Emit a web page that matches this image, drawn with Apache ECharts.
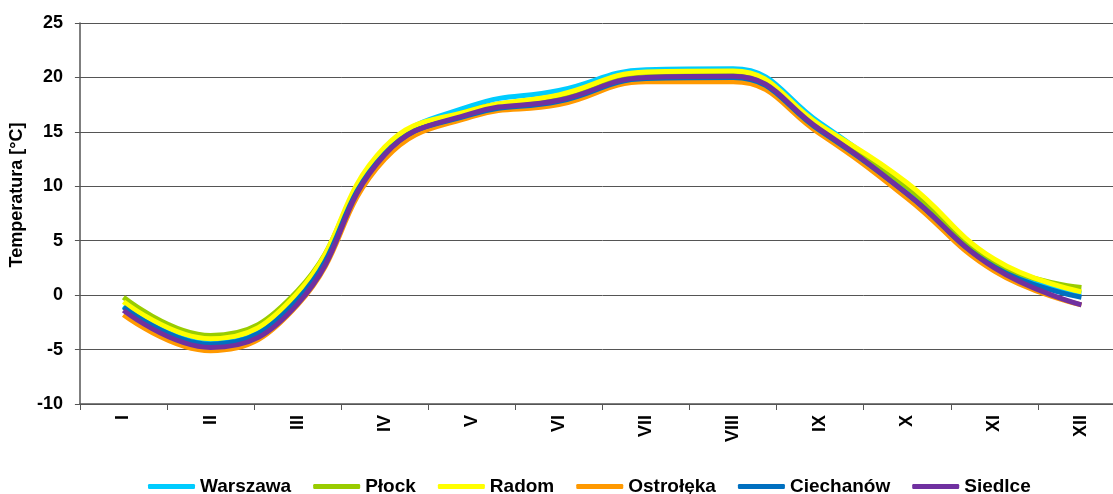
<!DOCTYPE html>
<html>
<head>
<meta charset="utf-8">
<title>Temperatura</title>
<script src="https://cdn.jsdelivr.net/npm/echarts@6/dist/echarts.min.js"></script>
<style>
  html, body { margin: 0; padding: 0; background: #fff; overflow: hidden; }
  /* wykres wychodzi poza prawą krawędź, jak w oryginale */
  #chart { width: 1125px; height: 494px; }
</style>
</head>
<body>
<div id="chart"></div>
<script>
// miesiące
var months = ['I', 'II', 'III', 'IV', 'V', 'VI', 'VII', 'VIII', 'IX', 'X', 'XI', 'XII'];

// średnie miesięczne temperatury [°C]
var warszawa  = [-1.0, -4.1,  0.0, 13.3, 17.4, 18.8, 20.7, 20.8, 15.8,  9.8, 2.8,  0.2];
var plock     = [-0.2, -3.7,  0.4, 13.3, 17.0, 18.2, 20.4, 20.5, 15.5,  9.9, 3.0,  0.7];
var radom     = [-0.6, -4.0,  0.2, 13.6, 17.0, 18.4, 20.5, 20.6, 15.6, 10.3, 3.3,  0.3];
var ostroleka = [-1.8, -5.1, -0.9, 12.5, 16.4, 17.5, 19.6, 19.6, 14.8,  8.9, 2.2, -0.9];
var ciechanow = [-1.1, -4.5, -0.4, 13.0, 16.6, 17.8, 19.9, 20.0, 15.1,  9.3, 2.6, -0.2];
var siedlce   = [-1.4, -4.8, -0.8, 12.9, 16.7, 17.9, 20.0, 20.1, 15.2,  9.3, 2.5, -0.9];

var yTicks = { min: -10, max: 25, step: 5 };

var names  = ['Warszawa', 'Płock', 'Radom', 'Ostrołęka', 'Ciechanów', 'Siedlce'];
var values = [warszawa, plock, radom, ostroleka, ciechanow, siedlce];
var colors = ['#00ccff', '#99cc00', '#ffff00', '#ff9900', '#0070c0', '#7030a0'];

var font = '"Liberation Sans", Arial, sans-serif';

var chart = echarts.init(document.getElementById('chart'));

var series = names.map(function (n, i) {
    return {
        name: n,
        type: 'line',
        data: values[i],
        smooth: 0.45,
        showSymbol: false,
        symbol: 'none',
        color: colors[i],
        lineStyle: { width: 5, color: colors[i] },
        animation: false
    };
});

chart.setOption({
    animation: false,
    grid: {
        left: 77,
        right: 0,
        top: 23,
        bottom: 90,
        containLabel: false
    },
    legend: {
        data: names,
        left: 143,
        top: 472,
        icon: 'roundRect',
        itemWidth: 47,
        itemHeight: 5,
        itemGap: 22,
        textStyle: {
            fontFamily: font,
            fontWeight: 'bold',
            fontSize: 19,
            color: '#000'
        }
    },
    xAxis: {
        type: 'category',
        data: months,
        boundaryGap: true,
        axisLine: { onZero: false, lineStyle: { color: '#555', width: 1.5 } },
        axisTick: { show: true, inside: false, length: 6, lineStyle: { color: '#555' } },
        axisLabel: {
            rotate: 90,
            margin: 11,
            fontFamily: font,
            fontWeight: 'bold',
            fontSize: 18,
            color: '#000'
        },
        splitLine: { show: false }
    },
    yAxis: {
        type: 'value',
        min: yTicks.min,
        max: yTicks.max,
        interval: yTicks.step,
        name: 'Temperatura [°C]',
        nameLocation: 'middle',
        nameGap: 49,
        nameTextStyle: {
            fontFamily: font,
            fontWeight: 'bold',
            fontSize: 18,
            color: '#000',
            padding: [0, 0, 0, 37]
        },
        axisLine: { show: true, lineStyle: { color: '#555', width: 1.5 } },
        axisTick: { show: true, length: 5, lineStyle: { color: '#555' } },
        axisLabel: {
            margin: 17,
            fontFamily: font,
            fontWeight: 'bold',
            fontSize: 18,
            color: '#000'
        },
        splitLine: { show: true, lineStyle: { color: '#555', width: 1 } }
    },
    series: series
});
</script>
</body>
</html>
